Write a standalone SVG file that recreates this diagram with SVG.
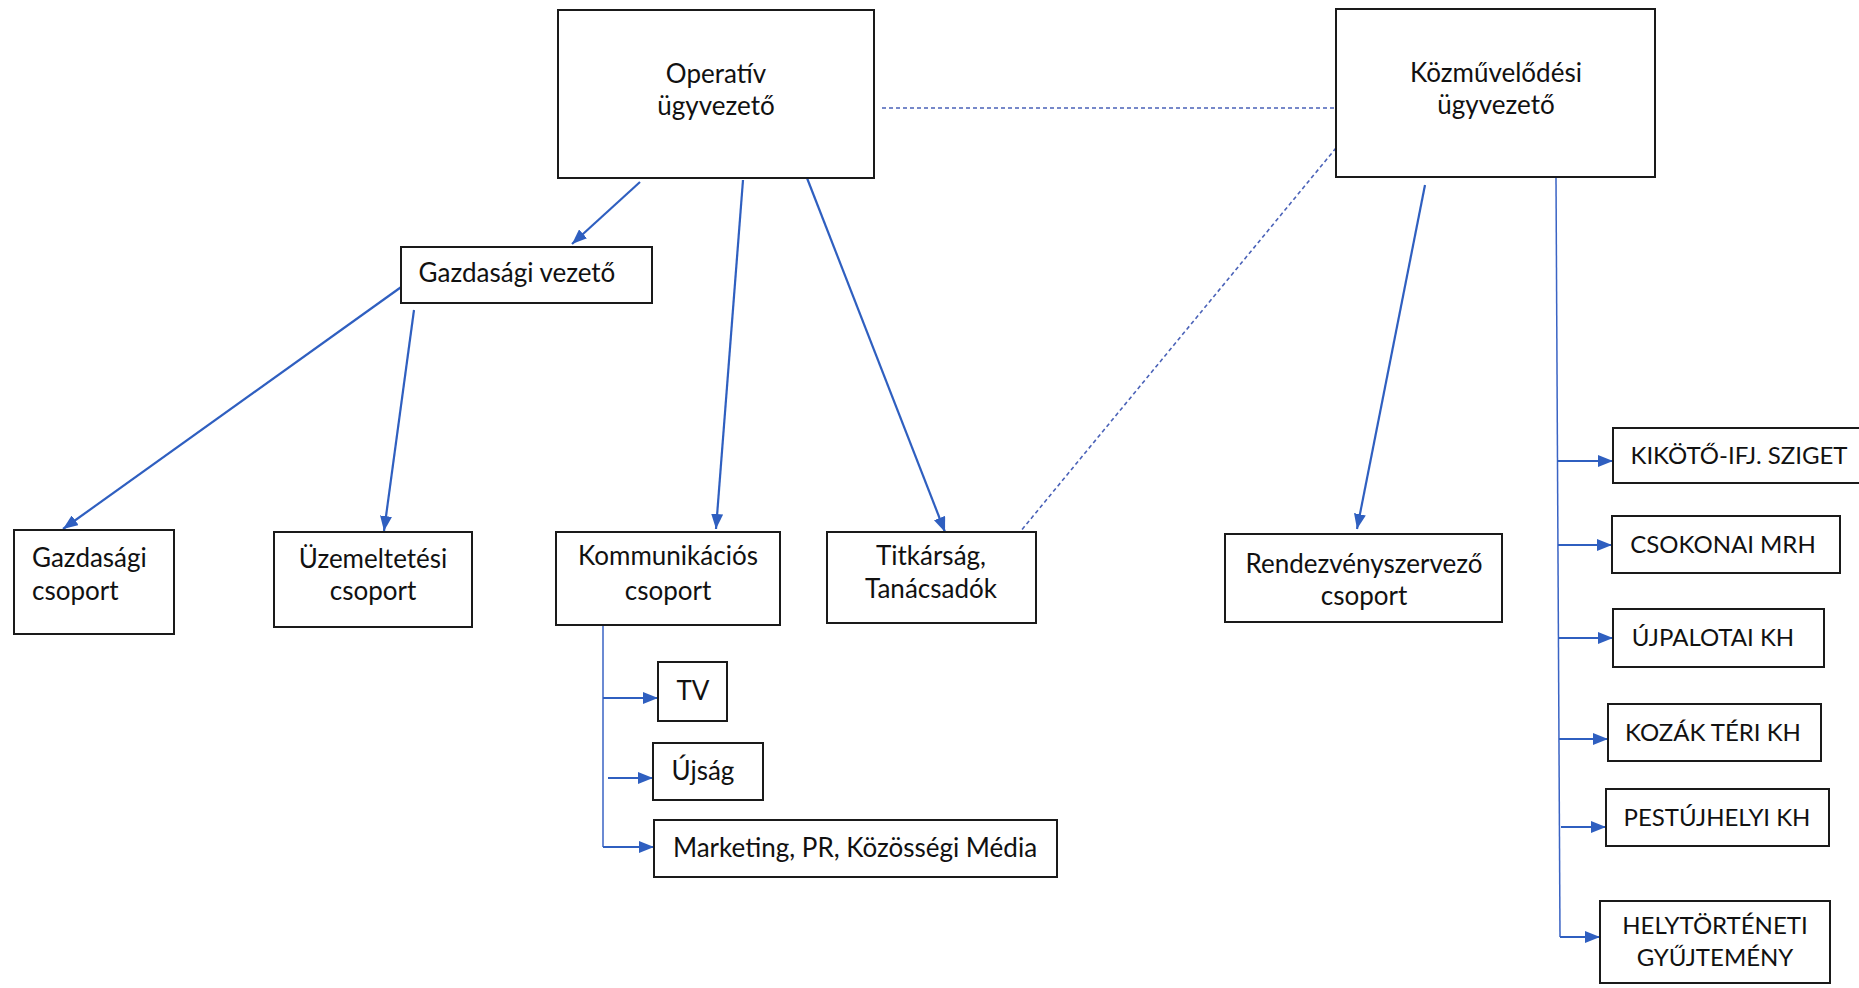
<svg xmlns="http://www.w3.org/2000/svg" width="1859" height="988" viewBox="0 0 1859 988">
<style>
.box{fill:#fff;stroke:#1a1a1a;stroke-width:2}
.t{font-family:Lato,"Open Sans","Liberation Sans",sans-serif;font-size:26px;fill:#111;text-anchor:middle}
.cap{font-size:24px}
.ts{text-anchor:start}
.c{stroke:#2f5fc0;stroke-width:2.2;fill:none}
.thin{stroke:#3a63c4;stroke-width:1.5;fill:none}
.d{stroke:#4a62b8;stroke-width:1.6;fill:none;stroke-dasharray:4 3}
</style>
<defs>
<marker id="ah" markerUnits="userSpaceOnUse" markerWidth="16" markerHeight="12" refX="15" refY="6" orient="auto">
<path d="M0,0 L15,6 L0,12 z" fill="#2f5fc0"/>
</marker>
</defs>
<rect width="1859" height="988" fill="#fff"/>
<g id="connectors">
<line class="d" x1="882" y1="108" x2="1336" y2="108"/>
<line class="d" x1="1336" y1="148" x2="1020" y2="532"/>
<line class="c" x1="640" y1="182" x2="572" y2="244" marker-end="url(#ah)"/>
<line class="c" x1="404" y1="285" x2="63" y2="529" marker-end="url(#ah)"/>
<line class="c" x1="414" y1="310" x2="384" y2="531" marker-end="url(#ah)"/>
<line class="c" x1="743" y1="180" x2="716" y2="529" marker-end="url(#ah)"/>
<line class="c" x1="807" y1="178" x2="945" y2="532" marker-end="url(#ah)"/>
<line class="c" x1="1425" y1="185" x2="1357" y2="529" marker-end="url(#ah)"/>
<line class="thin" x1="603" y1="625" x2="603" y2="847"/>
<line class="c" x1="603" y1="698" x2="658" y2="698" marker-end="url(#ah)"/>
<line class="c" x1="608" y1="778" x2="653" y2="778" marker-end="url(#ah)"/>
<line class="c" x1="603" y1="847" x2="654" y2="847" marker-end="url(#ah)"/>
<line class="thin" x1="1556" y1="178" x2="1560" y2="937"/>
<line class="c" x1="1557" y1="461" x2="1613" y2="461" marker-end="url(#ah)"/>
<line class="c" x1="1558" y1="545" x2="1612" y2="545" marker-end="url(#ah)"/>
<line class="c" x1="1558" y1="638" x2="1613" y2="638" marker-end="url(#ah)"/>
<line class="c" x1="1559" y1="739" x2="1608" y2="739" marker-end="url(#ah)"/>
<line class="c" x1="1561" y1="827" x2="1606" y2="827" marker-end="url(#ah)"/>
<line class="c" x1="1560" y1="937" x2="1600" y2="937" marker-end="url(#ah)"/>
</g>
<g id="operativ">
<rect class="box" x="558" y="10" width="316" height="168"/>
<text class="t" x="716" y="83">Operatív</text>
<text class="t" x="716" y="115">ügyvezető</text>
</g>
<g id="kozmuvelodesi">
<rect class="box" x="1336" y="9" width="319" height="168"/>
<text class="t" x="1496" y="82">Közművelődési</text>
<text class="t" x="1496" y="114">ügyvezető</text>
</g>
<g id="gazdasagi-vezeto">
<rect class="box" x="401" y="247" width="251" height="56"/>
<text class="t" x="517" y="282">Gazdasági vezető</text>
</g>
<g id="gazdasagi-csoport">
<rect class="box" x="14" y="530" width="160" height="104"/>
<text class="t ts" x="32" y="567">Gazdasági</text>
<text class="t ts" x="32" y="600">csoport</text>
</g>
<g id="uzemeltetesi-csoport">
<rect class="box" x="274" y="532" width="198" height="95"/>
<text class="t" x="373" y="568">Üzemeltetési</text>
<text class="t" x="373" y="600">csoport</text>
</g>
<g id="kommunikacios-csoport">
<rect class="box" x="556" y="532" width="224" height="93"/>
<text class="t" x="668" y="565">Kommunikációs</text>
<text class="t" x="668" y="600">csoport</text>
</g>
<g id="titkarsag">
<rect class="box" x="827" y="532" width="209" height="91"/>
<text class="t" x="931" y="565">Titkárság,</text>
<text class="t" x="931" y="598">Tanácsadók</text>
</g>
<g id="rendezvenyszervezo">
<rect class="box" x="1225" y="534" width="277" height="88"/>
<text class="t" x="1364" y="573">Rendezvényszervező</text>
<text class="t" x="1364" y="605">csoport</text>
</g>
<g id="tv">
<rect class="box" x="658" y="662" width="69" height="59"/>
<text class="t" x="693" y="700">TV</text>
</g>
<g id="ujsag">
<rect class="box" x="653" y="743" width="110" height="57"/>
<text class="t" x="703" y="780">Újság</text>
</g>
<g id="marketing">
<rect class="box" x="654" y="820" width="403" height="57"/>
<text class="t" x="855" y="857">Marketing, PR, Közösségi Média</text>
</g>
<g id="kikoto">
<rect class="box" x="1613" y="428" width="250" height="55"/>
<text class="t cap" x="1739" y="464">KIKÖTŐ-IFJ. SZIGET</text>
</g>
<g id="csokonai">
<rect class="box" x="1612" y="516" width="228" height="57"/>
<text class="t cap" x="1723" y="553">CSOKONAI MRH</text>
</g>
<g id="ujpalotai">
<rect class="box" x="1613" y="609" width="211" height="58"/>
<text class="t cap" x="1713" y="646">ÚJPALOTAI KH</text>
</g>
<g id="kozak">
<rect class="box" x="1608" y="704" width="213" height="57"/>
<text class="t cap" x="1713" y="741">KOZÁK TÉRI KH</text>
</g>
<g id="pestujhelyi">
<rect class="box" x="1606" y="789" width="223" height="57"/>
<text class="t cap" x="1717" y="826">PESTÚJHELYI KH</text>
</g>
<g id="helytorteneti">
<rect class="box" x="1600" y="901" width="230" height="82"/>
<text class="t cap" x="1715" y="934">HELYTÖRTÉNETI</text>
<text class="t cap" x="1715" y="966">GYŰJTEMÉNY</text>
</g>
</svg>
